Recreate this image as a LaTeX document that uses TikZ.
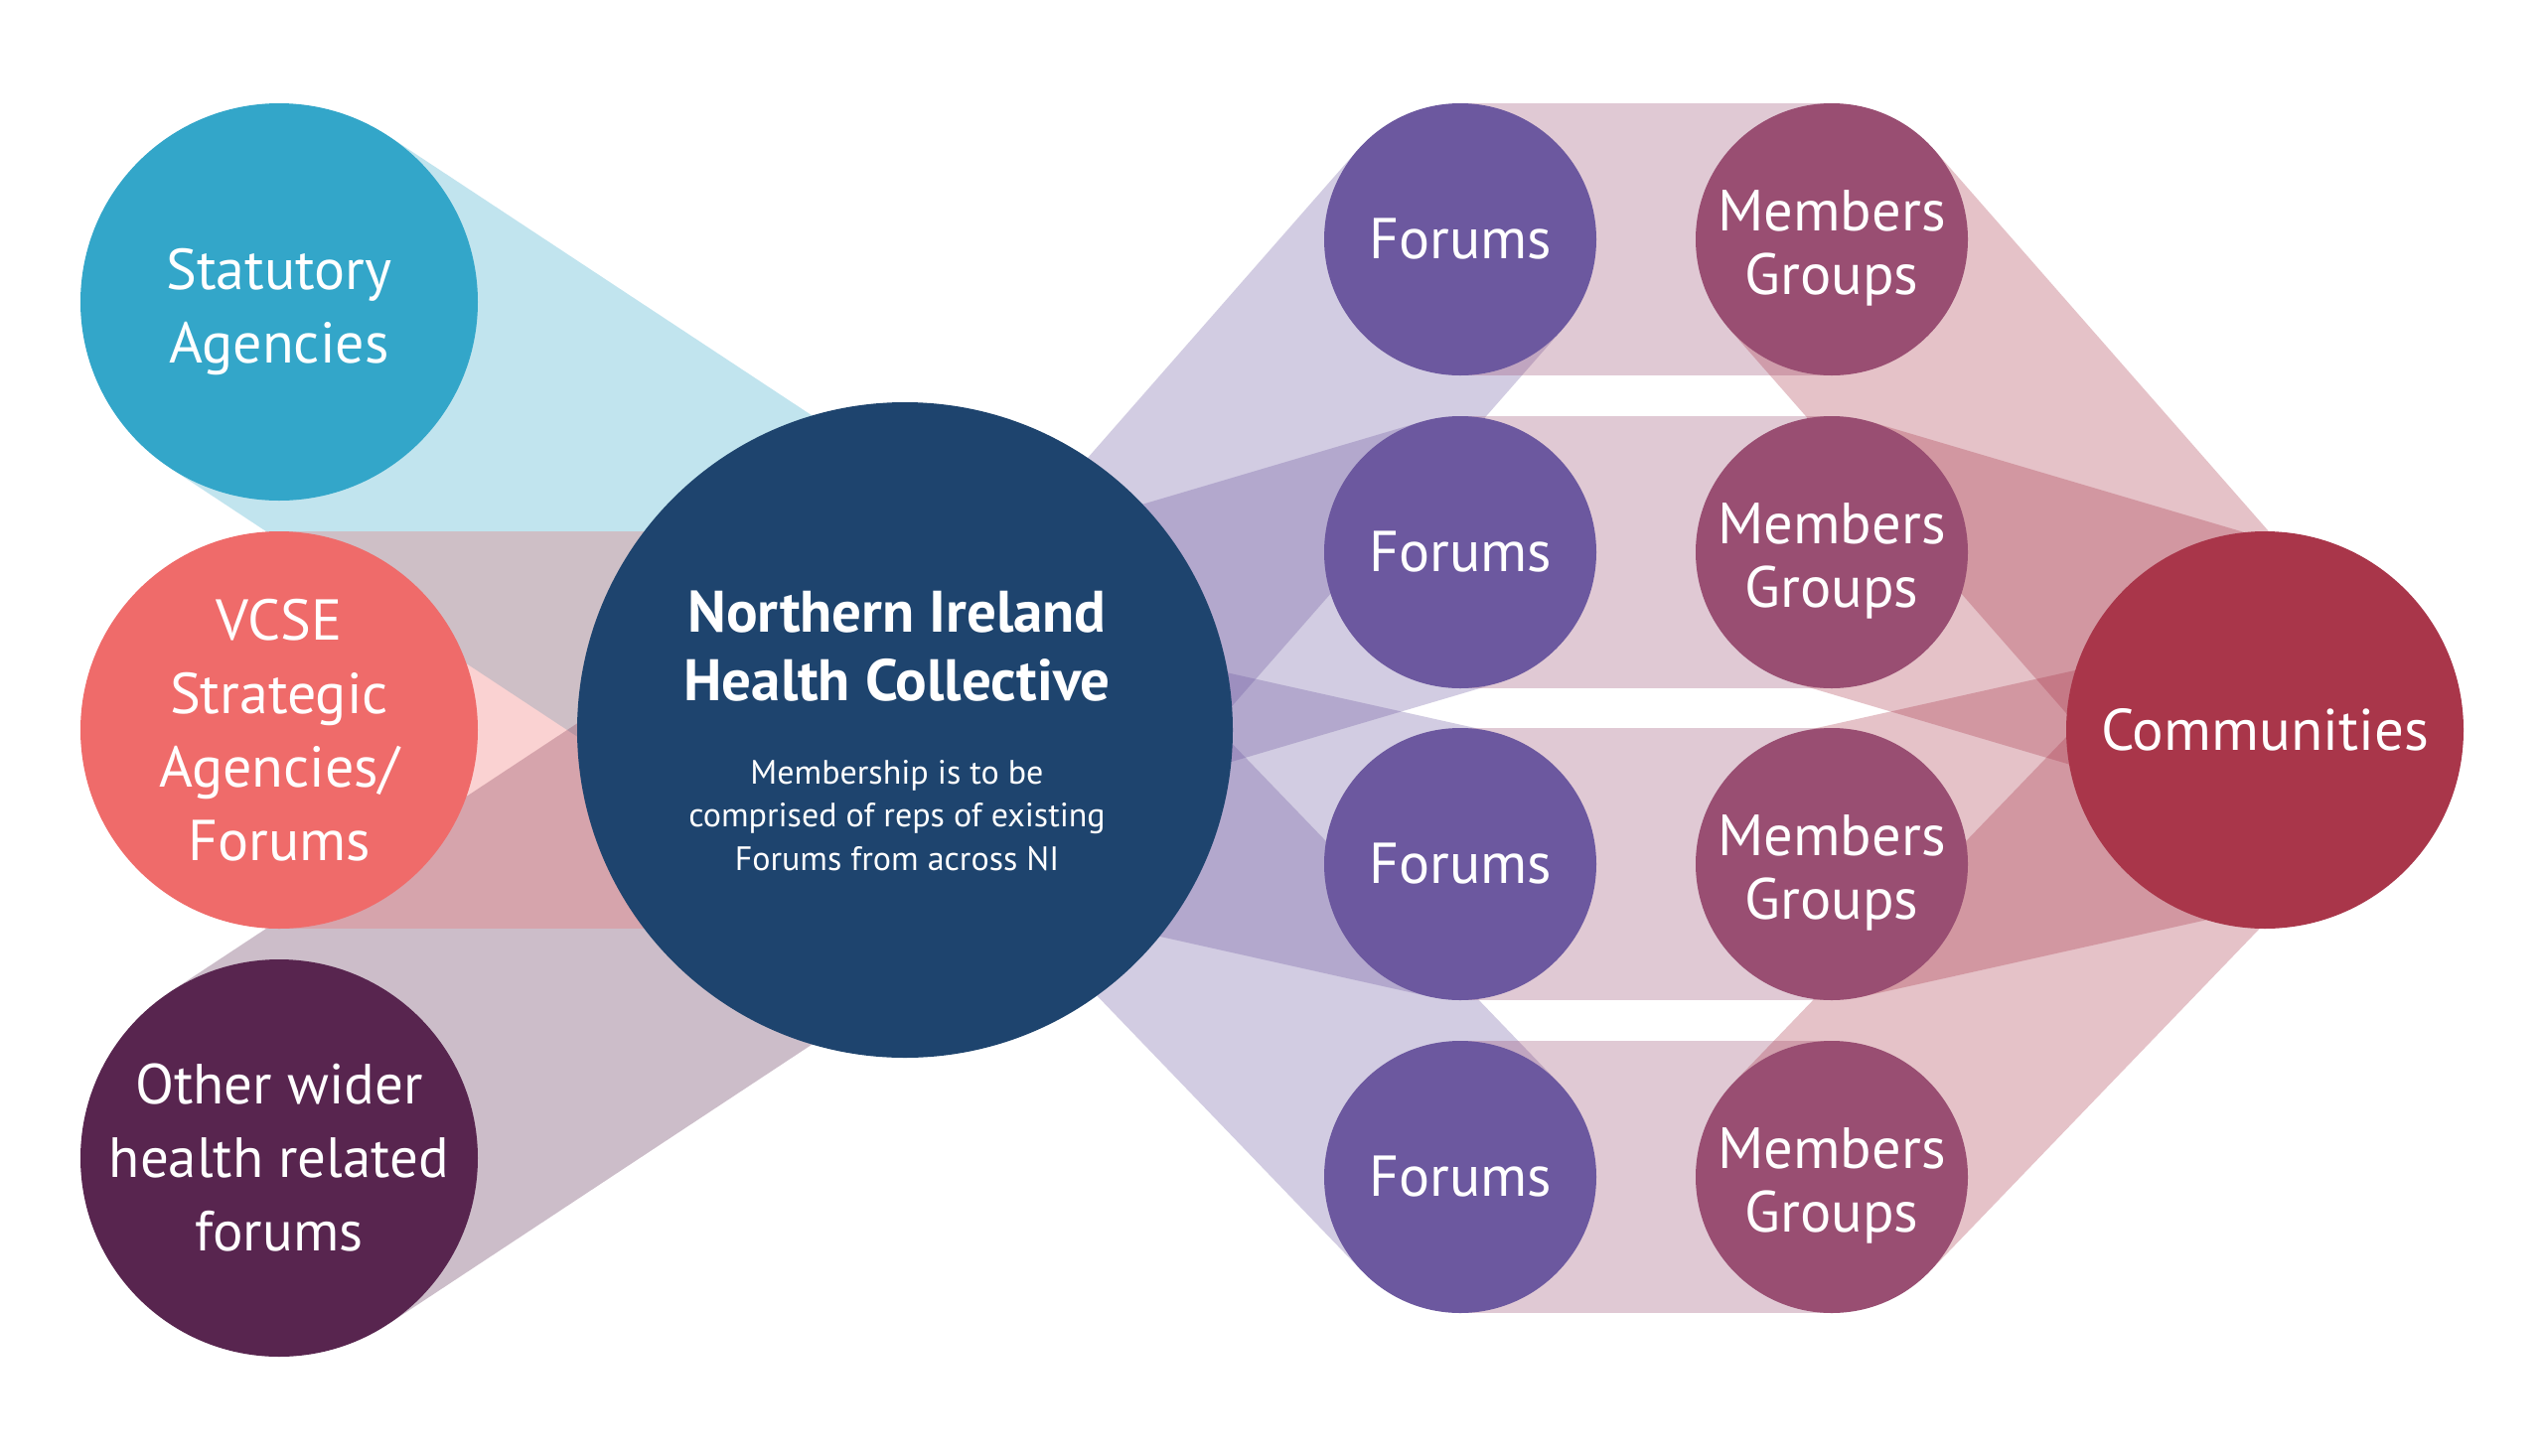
\documentclass[tikz,border=0pt]{standalone}
\usepackage{fontspec}
\setmainfont{PT Sans}
\usetikzlibrary{calc,backgrounds}
\definecolor{cstat}{HTML}{33A6C9}
\definecolor{cvcse}{HTML}{EF6B6A}
\definecolor{cother}{HTML}{58254F}
\definecolor{cnihc}{HTML}{1E446E}
\definecolor{cforum}{HTML}{6C589F}
\definecolor{cmember}{HTML}{994E72}
\definecolor{ccomm}{HTML}{A9364A}
\tikzset{
  bubble/.style={circle, inner sep=0pt, text=white, align=center, font=\fontsize{58}{74}\selectfont},
  bigbubble/.style={bubble, minimum size=400pt},
  smallbubble/.style={bubble, minimum size=274pt},
  band/.style={line cap=butt, opacity=0.3},
  wideband/.style={band, line width=400pt},
  narrowband/.style={band, line width=274pt},
}
\begin{document}
\begin{tikzpicture}[x=1pt,y=-1pt]
\useasboundingbox (0,0) rectangle (2560,1465);
% left circles
\node[bigbubble, fill=cstat] (stat) at (281,304) {\rule{0pt}{62pt}Statutory\\Agencies};
\node[bigbubble, fill=cvcse] (vcse) at (281,735) {VCSE\\Strategic\\Agencies/\\Forums};
\node[bigbubble, fill=cother, font=\fontsize{57}{74}\selectfont] (other) at (281,1166) {Other wider\\health related\\forums};
% centre
\node[circle, inner sep=0pt, fill=cnihc, minimum size=660pt] (nihc) at (911,735) {};
\node[text=white, align=center, font=\bfseries\fontsize{59}{69}\selectfont] (title) at (903,651) {Northern Ireland\\Health Collective};
\node[text=white, align=center, font=\fontsize{34}{43.5}\selectfont] (body) at (903,821) {Membership is to be\\comprised of reps of existing\\Forums from across NI};
% forums and members
\foreach \i/\y in {1/241,2/556,3/870,4/1185}{
  \node[smallbubble, fill=cforum] (f\i) at (1470,\y) {Forums};
  \node[smallbubble, fill=cmember, font=\fontsize{58.5}{64}\selectfont] (m\i) at (1844,\y) {\rule{0pt}{58pt}Members\\Groups};
}
\node[bigbubble, fill=ccomm, font=\fontsize{59}{74}\selectfont] (comm) at (2280,735) {Communities};
\begin{pgfonlayer}{background}
  \fill[white] (0,0) rectangle (2560,1465);
  \coordinate (ls) at (934,735);
  \coordinate (rf1) at (1037,735);
  \coordinate (rf2) at (865,735);
  \coordinate (rc1) at (2277,735);
  \coordinate (rc2) at (2449,735);
  % left bands
  \draw[wideband, cstat] (stat.center) -- ($(stat.center)!(nihc.center)!(ls)$);
  \draw[wideband, cother] (other.center) -- ($(other.center)!(nihc.center)!(ls)$);
  \draw[wideband, cvcse] (vcse.center) -- (nihc.center);
  % centre to forums
  \draw[narrowband, cforum] (f1.center) -- ($(f1.center)!(nihc.center)!(rf1)$);
  \draw[narrowband, cforum] (f4.center) -- ($(f4.center)!(nihc.center)!(rf1)$);
  \draw[narrowband, cforum] (f2.center) -- ($(f2.center)!(nihc.center)!(rf2)$);
  \draw[narrowband, cforum] (f3.center) -- ($(f3.center)!(nihc.center)!(rf2)$);
  % forums to members
  \foreach \i in {1,...,4}{
    \draw[narrowband, cmember] (f\i.center) -- (m\i.center);
  }
  % members to communities
  \draw[narrowband, ccomm] (m1.center) -- ($(m1.center)!(comm.center)!(rc1)$);
  \draw[narrowband, ccomm] (m4.center) -- ($(m4.center)!(comm.center)!(rc1)$);
  \draw[narrowband, ccomm] (m2.center) -- ($(m2.center)!(comm.center)!(rc2)$);
  \draw[narrowband, ccomm] (m3.center) -- ($(m3.center)!(comm.center)!(rc2)$);
\end{pgfonlayer}
\end{tikzpicture}
\end{document}
